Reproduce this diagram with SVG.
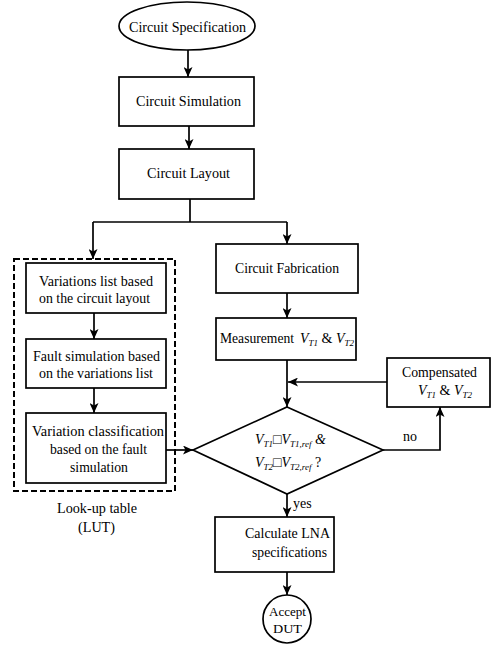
<svg xmlns="http://www.w3.org/2000/svg" width="492" height="646" viewBox="0 0 492 646">
<style>
  .box{fill:#fff;stroke:#000;stroke-width:1.7}
  .dash{fill:none;stroke:#000;stroke-width:2;stroke-dasharray:6,3}
  .t{font-family:"Liberation Serif","Times New Roman",serif;font-size:14px;fill:#000}
  .sm{font-size:12.5px}
  .c{stroke:#000;stroke-width:1.7;fill:none}
  .a{marker-end:url(#ah)}
  .i{font-style:italic}
  .s{font-size:9px;font-style:italic}
</style>
<defs>
  <marker id="ah" markerUnits="userSpaceOnUse" markerWidth="10" markerHeight="9" refX="10" refY="4.5" orient="auto">
    <path d="M0,0 L10,4.5 L0,9 L2.5,4.5 z" fill="#000"/>
  </marker>
</defs>
<rect width="492" height="646" fill="#fff"/>

<g id="connectors">
  <path class="c a" d="M188,50 V77"/>
  <path class="c a" d="M189,126 V149"/>
  <path class="c" d="M190,199 V222"/>
  <path class="c" d="M93,222 H287"/>
  <path class="c a" d="M93,222 V259"/>
  <path class="c a" d="M287,222 V244"/>
  <path class="c a" d="M94,313 V339"/>
  <path class="c a" d="M94,388 V413"/>
  <path class="c a" d="M166,450 H193"/>
  <path class="c a" d="M287,293 V318"/>
  <path class="c a" d="M287,360 V407"/>
  <path class="c a" d="M387,382 H288"/>
  <path class="c a" d="M383,450 H440 V407"/>
  <path class="c a" d="M287,494 V517"/>
  <path class="c a" d="M287,572 V595"/>
</g>

<g id="spec">
  <ellipse class="box" cx="187" cy="26" rx="68" ry="24"/>
  <text class="t" x="129" y="32" textLength="117" lengthAdjust="spacingAndGlyphs">Circuit Specification</text>
</g>
<g id="simulation">
  <rect class="box" x="119" y="77" width="135" height="49"/>
  <text class="t" x="136" y="106" textLength="105" lengthAdjust="spacingAndGlyphs">Circuit Simulation</text>
</g>
<g id="layout">
  <rect class="box" x="119" y="149" width="135" height="50"/>
  <text class="t" x="147" y="178" textLength="83" lengthAdjust="spacingAndGlyphs">Circuit Layout</text>
</g>

<g id="lut">
  <rect class="dash" x="14" y="259" width="161" height="232"/>
  <text class="t" x="57" y="513" textLength="80" lengthAdjust="spacingAndGlyphs">Look-up table</text>
  <text class="t" x="78" y="532" textLength="37" lengthAdjust="spacingAndGlyphs">(LUT)</text>
</g>
<g id="variations">
  <rect class="box" x="26" y="263" width="140" height="50"/>
  <text class="t" x="39" y="286" textLength="114" lengthAdjust="spacingAndGlyphs">Variations list based</text>
  <text class="t" x="39" y="303" textLength="111" lengthAdjust="spacingAndGlyphs">on the circuit layout</text>
</g>
<g id="fault">
  <rect class="box" x="26" y="339" width="140" height="49"/>
  <text class="t" x="33" y="361" textLength="127" lengthAdjust="spacingAndGlyphs">Fault simulation based</text>
  <text class="t" x="39" y="378" textLength="114" lengthAdjust="spacingAndGlyphs">on the variations list</text>
</g>
<g id="classification">
  <rect class="box" x="26" y="413" width="140" height="70"/>
  <text class="t" x="32" y="436" textLength="132" lengthAdjust="spacingAndGlyphs">Variation classification</text>
  <text class="t" x="50" y="454" textLength="97" lengthAdjust="spacingAndGlyphs">based on the fault</text>
  <text class="t" x="70" y="472" textLength="58" lengthAdjust="spacingAndGlyphs">simulation</text>
</g>

<g id="fabrication">
  <rect class="box" x="216" y="244" width="142" height="49"/>
  <text class="t" x="235" y="273" textLength="104" lengthAdjust="spacingAndGlyphs">Circuit Fabrication</text>
</g>
<g id="measurement">
  <rect class="box" x="216" y="318" width="140" height="42"/>
  <text class="t" x="220" y="343" textLength="74" lengthAdjust="spacingAndGlyphs">Measurement</text>
  <text class="t" x="300" y="343"><tspan class="i">V</tspan><tspan class="s" dy="3">T1</tspan><tspan dy="-3"> &amp; </tspan><tspan class="i">V</tspan><tspan class="s" dy="3">T2</tspan></text>
</g>
<g id="compensated">
  <rect class="box" x="387" y="358" width="103" height="49"/>
  <text class="t" x="402" y="377" textLength="75" lengthAdjust="spacingAndGlyphs">Compensated</text>
  <text class="t" x="418" y="395"><tspan class="i">V</tspan><tspan class="s" dy="3">T1</tspan><tspan dy="-3"> &amp; </tspan><tspan class="i">V</tspan><tspan class="s" dy="3">T2</tspan></text>
</g>
<g id="decision">
  <polygon class="box" points="287,407 383,450 287,494 193,450"/>
  <text class="t" x="255" y="444"><tspan class="i">V</tspan><tspan class="s" dy="3">T1</tspan><tspan dy="-3">□</tspan><tspan class="i">V</tspan><tspan class="s" dy="3">T1,ref</tspan><tspan class="i" dy="-3"> &amp;</tspan></text>
  <text class="t" x="255" y="467"><tspan class="i">V</tspan><tspan class="s" dy="3">T2</tspan><tspan dy="-3">□</tspan><tspan class="i">V</tspan><tspan class="s" dy="3">T2,ref</tspan><tspan dy="-3"> ?</tspan></text>
  <text class="t" x="403" y="441">no</text>
  <text class="t" x="293" y="508">yes</text>
</g>
<g id="calculate">
  <rect class="box" x="215" y="517" width="119" height="55"/>
  <text class="t" x="245" y="538" textLength="85" lengthAdjust="spacingAndGlyphs">Calculate LNA</text>
  <text class="t" x="252" y="557" textLength="75" lengthAdjust="spacingAndGlyphs">specifications</text>
</g>
<g id="accept">
  <circle class="box" cx="287" cy="619" r="24"/>
  <text class="t sm" x="269" y="616" textLength="37" lengthAdjust="spacingAndGlyphs">Accept</text>
  <text class="t sm" x="273" y="633" textLength="29" lengthAdjust="spacingAndGlyphs">DUT</text>
</g>
</svg>
